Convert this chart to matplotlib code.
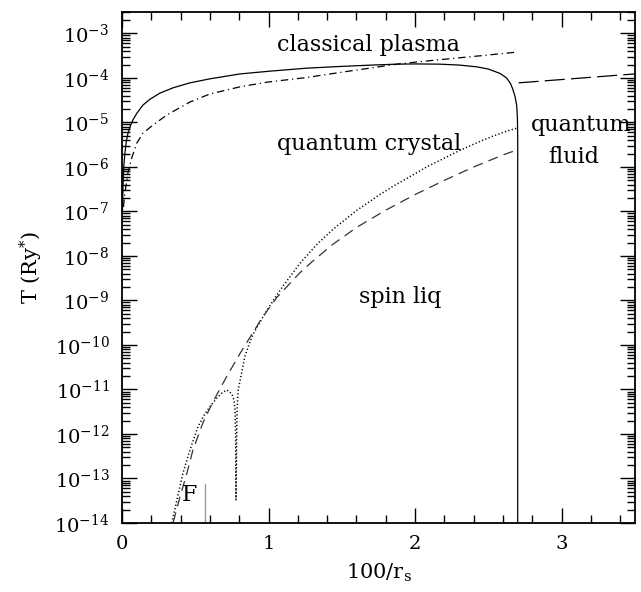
"""
Фазовая диаграмма T(100/r_s): плавление, классическая плазма, обмен.
"""

import matplotlib
matplotlib.use('Agg')
import matplotlib.pyplot as plt
import matplotlib.ticker as mticker
import numpy as np

plt.rcParams['font.family'] = ['DejaVu Serif']
plt.rcParams['mathtext.fontset'] = 'dejavuserif'

# Линия плавления (сплошная), x = 100/r_s, log10 T
melt_x = [0.003, 0.005, 0.007, 0.012, 0.02, 0.03, 0.041, 0.057, 0.075, 0.1, 0.143,
          0.19, 0.259, 0.35, 0.464, 0.6, 0.804, 1.0, 1.261, 1.5, 1.711, 1.875, 2.0,
          2.168, 2.3, 2.42, 2.5, 2.58, 2.624, 2.65, 2.665, 2.682, 2.693, 2.698,
          2.70, 2.70]
melt_logT = [-6.99, -6.75, -6.45, -6.0, -5.68, -5.42, -5.24, -5.08, -4.94, -4.8,
             -4.61, -4.48, -4.34, -4.22, -4.11, -4.02, -3.91, -3.85, -3.78, -3.74,
             -3.71, -3.69, -3.685, -3.69, -3.71, -3.75, -3.8, -3.9, -4.0, -4.12,
             -4.24, -4.42, -4.62, -4.9, -5.4, -14.0]

# Граница классической плазмы (штрих-пунктир)
plasma_x = [0.01, 0.02, 0.041, 0.068, 0.102, 0.143, 0.211, 0.307, 0.464, 0.6,
            0.804, 1.0, 1.261, 1.5, 1.711, 1.875, 2.0, 2.168, 2.45, 2.693]
plasma_logT = [-6.9, -6.58, -6.13, -5.78, -5.46, -5.24, -5.06, -4.83, -4.54, -4.36,
               -4.2, -4.09, -3.99, -3.87, -3.77, -3.69, -3.645, -3.59, -3.5, -3.42]

# Квантовая жидкость (длинный штрих)
fluid_x = [2.706, 3.497]
fluid_logT = [-4.11, -3.91]

# Обмен (пунктир точками)
exch_x = [0.34, 0.375, 0.416, 0.464, 0.518, 0.56, 0.60, 0.645, 0.682, 0.716, 0.75,
          0.765, 0.772, 0.776, 0.778, 0.782, 0.786, 0.793, 0.816, 0.838, 0.873,
          0.9, 0.93, 0.986, 1.05, 1.1, 1.213, 1.33, 1.44, 1.6, 1.759, 1.847, 2.079,
          2.304, 2.44, 2.529, 2.62, 2.693]
exch_logT = [-14.0, -13.48, -12.88, -12.36, -11.84, -11.58, -11.39, -11.2, -11.08,
             -11.01, -11.1, -11.25, -11.5, -12.2, -13.48, -12.13, -11.39, -11.01,
             -10.63, -10.26, -9.93, -9.73, -9.55, -9.24, -8.91, -8.67, -8.17, -7.74,
             -7.4, -6.98, -6.62, -6.44, -6.0, -5.63, -5.43, -5.31, -5.2, -5.13]

# Обмен, другая оценка (штрих)
exch2_x = [0.35, 0.395, 0.443, 0.484, 0.552, 0.62, 0.716, 0.804, 0.873, 0.96, 1.057,
           1.213, 1.3, 1.438, 1.6, 1.8, 2.0, 2.2, 2.4, 2.6, 2.693]
exch2_logT = [-13.98, -13.42, -12.88, -12.36, -11.75, -11.28, -10.7, -10.2, -9.83,
              -9.37, -8.93, -8.38, -8.12, -7.74, -7.36, -6.97, -6.62, -6.3, -6.0,
              -5.73, -5.62]

# Отметка F (серая)
f_x = [0.566, 0.566]
f_logT = [-14.0, -13.12]

fig = plt.figure(figsize=(6.41, 5.92), dpi=100)
ax = fig.add_axes([0.1903, 0.1166, 0.8003, 0.8632])

lw = 0.9
ax.plot(melt_x, 10 ** np.array(melt_logT), color='black', linewidth=lw)
ax.plot(plasma_x, 10 ** np.array(plasma_logT), color='black', linewidth=lw,
        dashes=(6, 3, 1, 3))
ax.plot(fluid_x, 10 ** np.array(fluid_logT), color='black', linewidth=lw,
        dashes=(16, 5))
ax.plot(exch_x, 10 ** np.array(exch_logT), color='black', linewidth=1.1,
        dashes=(0.8, 1.5))
ax.plot(exch2_x, 10 ** np.array(exch2_logT), color='#333333', linewidth=lw,
        dashes=(8, 5))
ax.plot(f_x, 10 ** np.array(f_logT), color='#999999', linewidth=1.0)

ax.set_yscale('log')
ax.set_xlim(0, 3.5)
ax.set_ylim(1e-14, 3.04e-3)

ax.xaxis.set_major_locator(mticker.MultipleLocator(1))
ax.xaxis.set_minor_locator(mticker.MultipleLocator(0.2))
ax.yaxis.set_major_locator(mticker.LogLocator(base=10, numticks=20))
ax.yaxis.set_minor_locator(mticker.LogLocator(base=10, subs=np.arange(2, 10), numticks=20))
ax.yaxis.set_minor_formatter(mticker.NullFormatter())

ax.tick_params(which='both', direction='in', top=True, right=True, width=1.0,
               labelsize=14, colors='black')
ax.tick_params(which='major', length=11, pad=9)
ax.tick_params(which='minor', length=5.5)
for s in ax.spines.values():
    s.set_linewidth(1.3)

ax.set_xlabel(r'100/r$_{\rm s}$', fontsize=15, labelpad=6)
ax.set_ylabel(r'T (Ry$^{*}$)', fontsize=15, labelpad=7)

fs = 16
ax.text(1.684, 5.5e-4, 'classical plasma', fontsize=fs, ha='center', va='center')
ax.text(1.684, 3.3e-6, 'quantum crystal', fontsize=fs, ha='center', va='center')
ax.text(3.13, 8.7e-6, 'quantum', fontsize=fs, ha='center', va='center')
ax.text(3.08, 1.66e-6, 'fluid', fontsize=fs, ha='center', va='center')
ax.text(1.90, 1.2e-9, 'spin liq', fontsize=fs, ha='center', va='center')
ax.text(0.46, 4.3e-14, 'F', fontsize=fs, ha='center', va='center')

plt.savefig('out.png', dpi=100, facecolor='white')
plt.close(fig)
